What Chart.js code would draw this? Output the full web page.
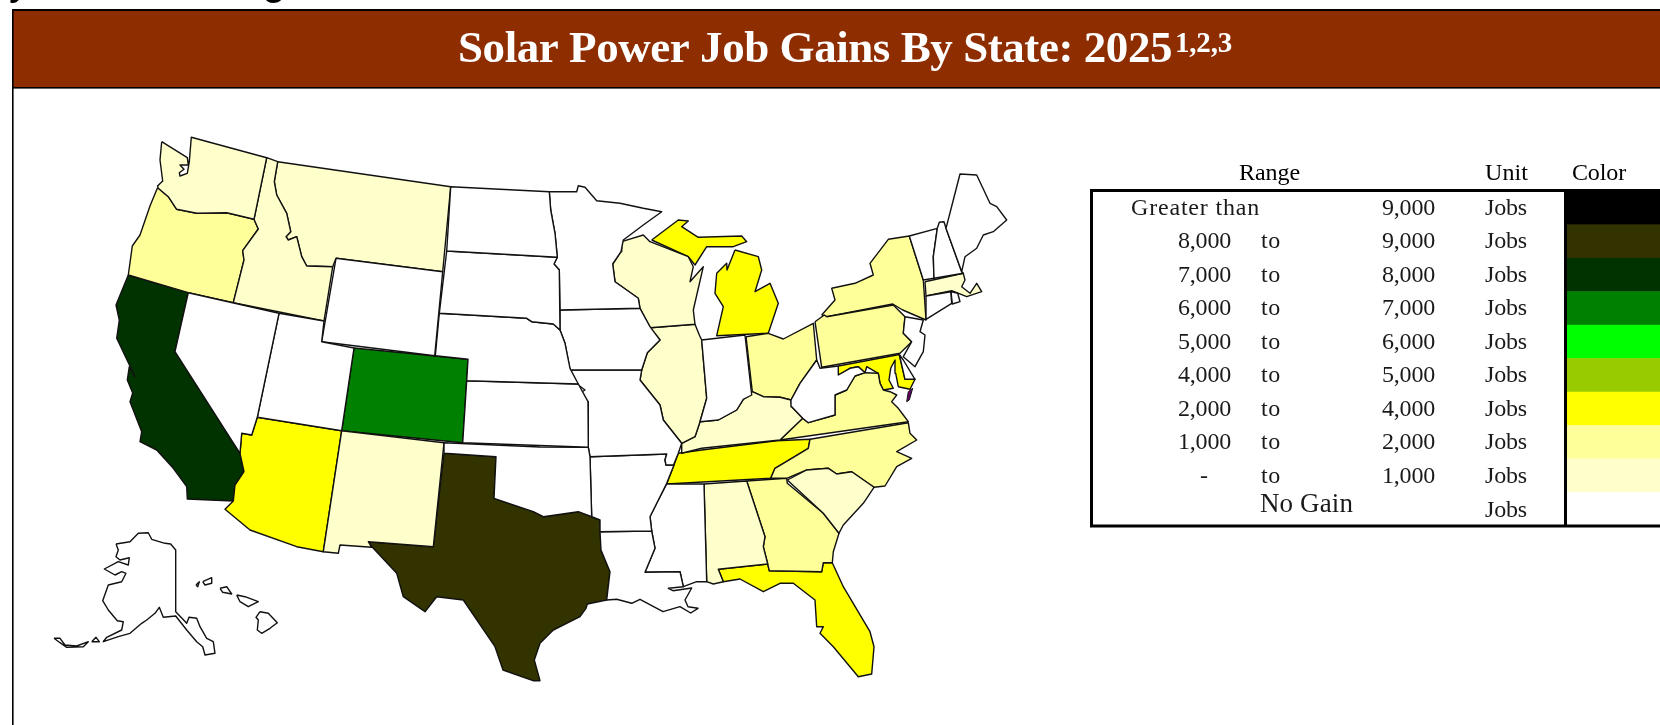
<!DOCTYPE html>
<html><head><meta charset="utf-8">
<style>html,body{margin:0;padding:0;background:#fff}canvas{display:block;filter:blur(.35px)}</style>
<script src="https://cdn.jsdelivr.net/npm/chart.js@4/dist/chart.umd.min.js"></script>
</head><body><canvas id="c" width="1660" height="725"></canvas>
<script>
// Legend
const rangeLow  = ['Greater than','8,000','7,000','6,000','5,000','4,000','2,000','1,000','-','No Gain'];
const rangeHigh = ['9,000','9,000','8,000','7,000','6,000','5,000','4,000','2,000','1,000',''];
const unitLabel = 'Jobs';
const binColors = ['#000000','#333300','#003300','#008000','#00ff00','#99cc00','#ffff00','#ffff99','#ffffcc','#ffffff'];
// Which legend row each state falls in (index into the arrays above)
const statesByBin = [
  [],['TX'],['CA'],['CO'],[],[],
  ['AZ','MI_U','MI_L','TN','FL','MD'],
  ['OR','OH','PA','NY','VA','NC','GA'],
  ['WA','ID','MT','NM','WI','IL','KY','AL','SC','MA'],
  ['NV','UT','WY','ND','SD','NE','KS','OK','MN','IA','MO','AR','LA','MS','IN','WV','ME','NH','VT','CT','RI','NJ','DE','AK','AK2','AK3','HI1','HI2','HI3','HI4','HI5']
];
// State outlines, as x,y pairs in map units
const WA=[161.7,141.7,187.3,157.7,188.3,165,180,165,184,169.3,179.3,172.7,180,176,187.3,173.3,189.3,161.7,191.3,137.3,266.7,157.7,254,219.3,226.7,212.7,196.7,213.3,176.7,209.3,168.3,196.7,158.3,188.3,157.5,186,162.7,181,160,160];
const OR=[157.3,188.3,158.3,188.3,168.3,196.7,176.7,209.3,196.7,213.3,226.7,212.7,254,219.3,258.3,229,242.7,250.7,244,260,233.3,302.7,188.3,292.7,128.3,275,132.3,246,140,235,150,206];
const ID=[266.7,157.7,277.7,161.7,274.3,181.7,276.7,195,286.7,213.3,290.7,231.7,286,236.7,288.3,240,296.7,236.7,301.7,256.7,306.7,266,332.7,266.7,324,321,233.3,302.7,244,260,242.7,250.7,258.3,229,254,219.3];
const MT=[277.7,161.7,450.7,186.7,442.7,271.7,336,258.3,332.7,266.7,306.7,266,301.7,256.7,296.7,236.7,288.3,240,286,236.7,290.7,231.7,286.7,213.3,276.7,195,274.3,181.7];
const WY=[336,258.3,442.7,271.7,434.7,355.7,321.7,341.7];
const ND=[450.7,186.7,549.3,191.7,550.7,210,555,233.3,557.3,257.3,446.7,251];
const SD=[446.7,251,557.3,257.3,554,264,559.3,270,560,330,553.3,324,531.7,321.7,526.7,318.3,439.3,313.3];
const NE=[439.3,313.3,526.7,318.3,531.7,321.7,553.3,324,560,330,565,343.3,570,368.3,578.3,384,466.7,380.7,468,359.3,435.3,355.7];
const CO=[354,348,468,359.3,462.7,442.7,341.7,430.7];
const UT=[279,313.3,324,321,321.7,341.7,354,348,341.7,430.7,257.3,417.3];
const NV=[188.3,292.7,279,313.3,257.3,417.3,251.7,435,241.7,433.3,240,453.3,175,351.7];
const CA=[128.3,275,188.3,292.7,175,351.7,240,453.3,244,471.7,235,485,233.3,501,187.3,499,186.7,486.7,173.3,468.3,156.7,450,140,441.7,141.7,431.7,130,401.7,132.7,393,127.3,380,129.3,366.7,135,376.7,116.7,338.3,119.3,320,116,305];
const AZ=[257.3,417.3,341.7,430.7,323.3,551.7,296.7,546.7,250,530,225,509.3,233.3,501,235,485,244,471.7,240,453.3,241.7,433.3,251.7,435];
const NM=[341.7,430.7,444,442.7,433.3,546.7,368.3,541.7,371.7,547.3,340,545,338.3,553.3,323.3,551.7];
const TX=[444,453.3,496,456.7,494,498.3,533.3,511.7,543.3,516.7,578.3,511.7,600,520,601,550,610,571.7,606.7,600,587.3,604,586,608.3,580,616.7,553.3,630,540,643.3,534.3,660,540,680.7,533,680.7,503,670,495,646.7,463.3,600,436.7,596.7,425,611.7,403.3,596.7,396.7,573.3,373.3,548.3,368.3,541.7,433.3,546.7];
const OK=[444,442.7,540,447,588.3,447.3,590,456.7,591.7,516.7,578.3,511.7,543.3,516.7,533.3,511.7,494,498.3,496,456.7,444,453.3];
const KS=[466.7,380.7,578.3,384,588,401.7,588.3,447.3,462.7,442.7];
const MN=[549.3,191.7,576.7,191.7,578.3,185.7,585,187.3,596.7,200.7,620,203.3,643.3,208.3,661.7,211.7,643.3,225,623.3,240,621,251.7,612.7,264,615,281.7,638.3,298.3,640,308.3,560,310,559.3,270,554,264,557.3,257.3,555,233.3,550.7,210];
const IA=[560,310,640,308.3,650,326.7,660,340,647.3,352.7,641.7,370,570,370,565,343.3,560,330];
const MO=[570,370,641.7,370,640,380,660,405,663.3,420,681.7,443.3,678.3,453.3,673.5,465,666,465,665,460,666.7,454,590,456.7,588.3,447.3,588,401.7,580,393,585,390,577,384];
const AR=[590,456.7,666.7,454,665,460,666,465,674,465,666.7,483.3,656.7,503.3,650,516.7,651.7,531,600,531.7,600,520,591.7,516.7];
const LA=[600,531.7,651.7,531,655,548.3,645,572.3,680,571.7,683.3,586.7,668.3,588.3,673,590.7,691.7,588,685,600,688,606.7,698,608.3,690.7,613,680,606.7,663,611.7,640,599.3,631.7,603.3,616.7,599.3,606.7,600,610,571.7,601,550];
const MS=[666.7,484,704,484,706.7,581.7,696.7,581.7,683.3,586.7,680,571.7,645,572.3,655,548.3,651.7,531,650,516.7,656.7,503.3];
const AL=[704,484,746.7,481,765,536.7,763.3,546.7,767.7,564,718.3,569.3,723.3,581.7,713.3,584,706.7,581.7];
const GA=[746.7,481,786.7,478.3,787.3,483.3,823.3,513.3,839,533.3,833.3,551.7,832.3,562.7,823.3,562.7,821.7,571.7,769.3,570.7,767.7,564,763.3,546.7,765,536.7];
const FL=[718.3,569.3,767.7,564,769.3,570.7,821.7,571.7,823.3,562.7,832.3,562.7,843.3,586.7,870,631.7,874,646.7,871.7,674,858.3,676.7,833.3,646.7,820,633.3,823.3,626.7,816.7,626.7,815,600,793.3,583.3,780,583.3,763.3,591.7,740,579,723.3,581.7];
const SC=[787.3,480,806.7,470,828.3,468.3,836.7,474,851.7,471.7,874,487.3,863.3,503.3,843.3,525,839,533.3,823.3,513.3];
const NC=[810,439.3,908.3,422.7,910,433.3,916.7,440,896.7,451.7,911.7,458.3,896.7,466.7,885,486,874,487.3,851.7,471.7,836.7,474,828.3,468.3,806.7,470,786.7,478.3,770.7,478.3,775,468.3,791.7,458.3,808.3,448.3];
const TN=[678.3,453.3,701.7,450,776.7,440.7,810,439.3,808.3,448.3,791.7,458.3,775,468.3,770.7,478.3,666.7,484,674,465];
const KY=[752.3,391.7,763.3,396.7,780,397.3,791,400,791.7,406.7,802.7,418.3,780,440,701.7,448.3,681.7,453.3,681.7,443.3,695,436.7,700,421.7,718.3,420,736.7,410,743.3,399.3];
const IL=[650,327.7,695,324.3,699.3,335,701.7,340,706.7,398.3,700,421.7,695,436.7,681.7,443.3,663.3,420,660,405,640,380,641.7,370,647.3,352.7,660,340];
const WI=[621.7,241.7,643.3,235,650,241.7,688.3,256.7,693.3,266.7,690,281.7,703.3,266.7,693.3,310,695,324.3,650,327.7,640,308.3,638.3,298.3,615,281.7,612.7,264,621,251.7];
const MI_U=[651.7,240,678.3,220,688.3,221,681.7,226.7,698.3,237.3,741.7,236,746.7,241.7,733.3,246.7,706.7,246.7,695,265,688.3,256.7];
const MI_L=[735,250,758.3,256.7,761.7,270,755,291.7,770,283.3,778.3,303.3,768.3,333.3,716.7,335.7,723.3,306.7,715,293.3,716.7,273.3,726.7,263.3,727,270];
const IN=[701.7,340,745,335,751.7,395,743.3,399.3,736.7,410,718.3,420,700,421.7,706.7,398.3];
const OH=[746,336.7,768.3,333.3,783.3,339,813.3,323.3,816.7,360,800,383.3,791,400,780,397.3,763.3,396.7,752.3,391.7];
const WV=[816.7,360,820,368.3,838.3,366,838.3,375,850,368.3,858.3,366.7,865,372.7,855,376,846.7,390,835,395,835,415,808.3,422.7,802.7,418.3,791.7,406.7,791,400,800,383.3];
const MD=[838.3,366,899.3,354.5,905,379.3,915,379.3,910,389.3,898.3,386.7,895.7,373.3,895,360,890.7,368.3,889,380,893.3,388.3,883.3,390,880,383.3,878.3,373.3,866.7,366.7,865,372.7,858.3,366.7,850,368.3,838.3,375];
const DE=[899.3,354.5,903.3,360,915,379.3,905,379.3];
const VA=[780,440,802.7,418.3,808.3,422.7,835,415,835,395,846.7,390,855,376,865,372.7,878.3,373.3,880,383.3,883.3,390,890,391.7,896.7,395,891.7,401.7,898.3,408.3,903.3,415,908.3,421.7];
const VA_SHORE=[912.7,388.3,909.3,400,906.7,401.7,908.3,391.7];
const PA=[815,321.7,824.3,315,826.7,316.7,893.3,305,905,316.7,903.3,333.3,911.7,341.7,900,353.3,821.7,367.3];
const NY=[821.7,315,835,300,831.7,288.3,855,283.3,873.3,275,870,263.3,888.3,239.3,909.3,236,923.3,280,926,320,902.7,310,892.7,304,826.7,316.7];
const NJ=[905,316.7,923.3,320,920,331.7,925,335,923.3,351.7,915,366.7,903.3,356.7,911.7,341.7,903.3,333.3];
const VT=[909.3,236,937.3,228.3,933.3,256.7,934,278.3,923.3,280];
const NH=[937.3,228.3,939.3,222.3,944,221.7,946,228.3,961.7,271.7,963.3,273.3,934,278.3,933.3,256.7];
const ME=[946,228.3,953.3,200,960,174,976.7,175,990,203.3,996.7,206.7,1006.7,220,993.3,231.7,983.3,235,976.7,248.3,965,256.7,961.7,271.7];
const MA=[925,281.7,963.3,273.3,965,280,961.7,286.7,970,293.3,976.7,283.3,981.7,291.7,966.7,296.7,951.7,290.7,926,296];
const CT=[926,296,950.7,291.7,951.7,303.3,926,319.3];
const RI=[951,291.5,957.7,293.3,960,301.7,952.3,304];
const AK=[116,544,130,541.7,138.3,533.3,148.3,532.7,151.7,539.3,165,543.3,170.7,544,175.7,550,175.7,611.7,186.7,623.3,189,617.3,196.7,618.3,200,626.7,206.7,638.3,213.3,641.7,215,653.3,205,655,202.7,646.7,196.7,641.7,186.7,630,175.7,616,163.3,617.3,159.3,607.3,155,613.3,146.7,620,141.7,623.3,130,633.3,118.3,636.7,103.3,641.7,106.7,637.3,121.7,630,123.3,621.7,117.3,620.7,108.3,610,102.7,600.7,108.3,585,121.7,581.7,126,573.3,121.7,571.7,115,575,104.3,569,118.3,561.7,128.3,565,129.3,557.7,120,560,116,556.7,118.3,550];
const AK2=[54,638.3,60,638.3,65,645,76.7,646,88.3,641.7,83.3,646.7,66.7,647.3,60,642.7];
const AK3=[91.7,641.7,96,637.3,99.3,641.7];
const HI1=[260,611.7,268.3,613.3,277.3,622.7,270,628.3,261.7,633.3,257.3,630,258.3,620,256,617.3];
const HI2=[236.7,595,245,596.7,258.3,601.7,248.3,606.7,240,601.7];
const HI3=[220,588.3,226.7,586.7,231.7,594,222.7,592.3];
const HI4=[202.7,581.7,211.7,577.7,211.7,583.3,205,585];
const HI5=[196,585,199.3,581.7,197.7,586.7];

const outlines={WA,OR,ID,MT,WY,ND,SD,NE,CO,UT,NV,CA,AZ,NM,TX,OK,KS,MN,IA,MO,AR,LA,MS,AL,GA,FL,SC,NC,TN,KY,IL,WI,MI_U,MI_L,IN,OH,WV,MD,DE,VA,PA,NY,NJ,VT,NH,ME,MA,CT,RI,AK,AK2,AK3,HI1,HI2,HI3,HI4,HI5};
const ring=a=>{const p=[];for(let i=0;i<a.length;i+=2)p.push({x:a[i],y:a[i+1]});p.push({x:a[0],y:a[1]});return p;};
const stateSet=(name,color)=>({label:name,data:ring(outlines[name]),showLine:true,fill:'shape',backgroundColor:color,borderColor:'#111',borderWidth:1.4,pointRadius:0,tension:0,borderJoinStyle:'round'});
const datasets=[];
[9,8,7,6,5,4,3,2,1,0].forEach(b=>statesByBin[b].forEach(s=>datasets.push(stateSet(s,binColors[b]))));
datasets.push({label:'VA shore',data:ring(VA_SHORE),showLine:true,fill:'shape',backgroundColor:'#660066',borderColor:'#111',borderWidth:1,pointRadius:0});

const fitted=(ctx,t,x,y,w)=>{ctx.letterSpacing='0px';const m=ctx.measureText(t).width;ctx.letterSpacing=((w-m)/t.length).toFixed(3)+'px';ctx.fillText(t,x,y);ctx.letterSpacing='0px';};
const frame={id:'frame',afterDraw(ch){const c=ch.ctx;c.save();
  // cropped line of text above the panel
  c.fillStyle='#000';c.font='44px "Liberation Sans"';c.fillText('y',9,-6);c.fillText('g',262,-6);
  // panel and title bar
  c.fillStyle='#8e2e00';c.fillRect(13,10,1647,78);
  c.fillStyle='#000';c.fillRect(12,9,1648,2);c.fillRect(12,87,1648,1.6);c.fillRect(12,9,1.6,716);
  c.fillStyle='#fff';c.textBaseline='alphabetic';
  c.font='bold 45px "Liberation Serif"';fitted(c,'Solar Power Job Gains By State: 2025',458,62,714);
  c.font='bold 29px "Liberation Serif"';fitted(c,'1,2,3',1175,52,57);
  // legend box
  const top=191,rowH=33.45,bx=1092,sw=1567;
  c.fillStyle='#000';c.font='24px "Liberation Serif"';
  fitted(c,'Range',1239,180,61);fitted(c,'Unit',1485,180,43);fitted(c,'Color',1572,180,54);
  binColors.forEach((col,i)=>{c.fillStyle=col;c.fillRect(sw,top+i*rowH,1660-sw,rowH+.5);});
  c.fillStyle='#000';
  c.fillRect(bx-2,189,1660-bx+2,3);c.fillRect(bx-2,524.5,1660-bx+2,3);c.fillRect(bx-2,189,3,338);c.fillRect(1564,189,3,338);
  c.fillStyle='#1a1a1a';
  rangeLow.forEach((lo,i)=>{const y=215+i*33.45;
    if(i===0){fitted(c,lo,1131,y,129);}
    else if(i===9){c.font='27px "Liberation Serif"';fitted(c,lo,1260,511.5,93);c.font='24px "Liberation Serif"';}
    else if(lo==='-'){c.fillText(lo,1200,y);}
    else{fitted(c,lo,1178,y,53);}
    if(i>0&&i<9)fitted(c,'to',1261,y,20);
    if(rangeHigh[i])fitted(c,rangeHigh[i],1382,y,53);
    fitted(c,unitLabel,1485,i===9?516.5:y,42);
  });
  c.restore();}};

new Chart(document.getElementById('c'),{type:'scatter',data:{datasets},plugins:[frame],
 options:{responsive:false,animation:false,events:[],clip:false,layout:{padding:0},
  plugins:{legend:{display:false},tooltip:{enabled:false},title:{display:false}},
  scales:{x:{type:'linear',min:0,max:1660,display:false},y:{type:'linear',min:0,max:725,reverse:true,display:false}}}});
</script></body></html>
